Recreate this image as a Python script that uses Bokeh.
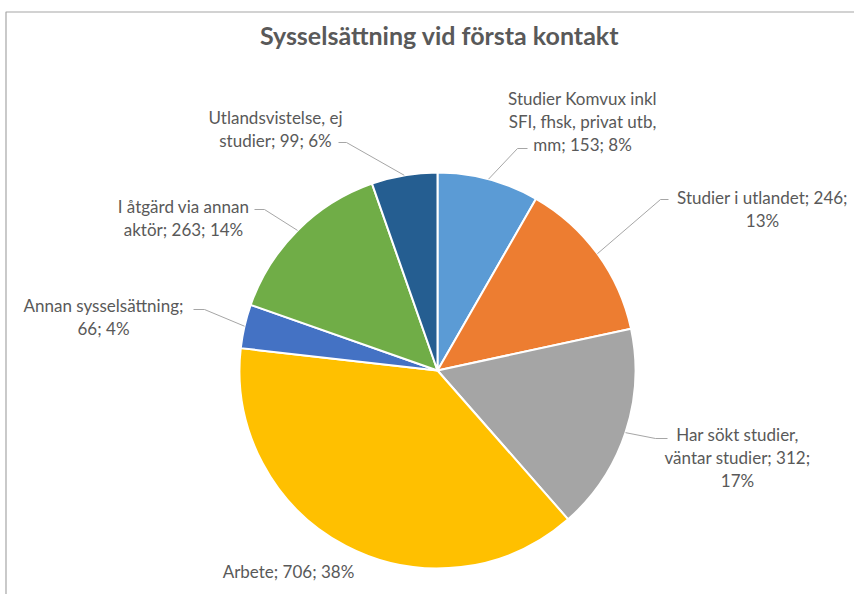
import math
from bokeh.plotting import figure
from bokeh.models import Range1d, ColumnDataSource
from bokeh.core.properties import value
from bokeh.embed import file_html
from bokeh.resources import INLINE

# ---- data ----
title = "Sysselsättning vid första kontakt"
categories = [
    "Studier Komvux inkl SFI, fhsk, privat utb, mm",
    "Studier i utlandet",
    "Har sökt studier, väntar studier",
    "Arbete",
    "Annan sysselsättning",
    "I åtgärd via annan aktör",
    "Utlandsvistelse, ej studier",
]
counts = [153, 246, 312, 706, 66, 263, 99]
pct_labels = ["8%", "13%", "17%", "38%", "4%", "14%", "6%"]

# ---- styles / layout ----
colors = ["#5B9BD5", "#ED7D31", "#A5A5A5", "#FFC000", "#4472C4", "#70AD47", "#255E91"]
W, H = 854, 594
OFF = 0
FONT = "Lato"
TXT = "#595959"

def sx(x):  # screen x -> data x
    return x - OFF

def sy(y):  # screen y -> data y
    return H + OFF - y

cx, cy, R = sx(437), sy(370), 198

# words per line for each label
words_per_line = [[3, 4, 3], [4, 1], [3, 3, 1], [3], [2, 2], [4, 3], [2, 3]]
# label centre x and line y positions (screen px)
label_x = [582, 762, 737, 288, 103, 183, 275]
label_y = [[98, 121, 144], [197, 220], [434, 457, 480], [571], [305, 328], [206, 229], [117, 140]]
# leader line: text end point and elbow (screen px); None = no leader
leaders = [((527, 148), (517, 148)), ((668, 199), (660, 199)), ((667, 438), (655, 438)),
           None, ((193, 309), (204, 309)), ((254, 209), (264, 209)), ((338, 142), (346, 142))]

p = figure(width=W, height=H, output_backend="svg", toolbar_location=None,
           x_range=Range1d(0, W), y_range=Range1d(0, H), min_border=0)
p.axis.visible = False
p.grid.visible = False
p.outline_line_color = None
p.background_fill_color = "white"

# chart border (left + top)
p.line([sx(5.5), sx(5.5), W + 10], [0, sy(11.5), sy(11.5)], line_color="#A6A6A6", line_width=1.2)

total = sum(counts)
starts, ends, mids = [], [], []
cum = 0
for v in counts:
    a0 = math.pi / 2 - 2 * math.pi * cum / total
    a1 = math.pi / 2 - 2 * math.pi * (cum + v) / total
    starts.append(a1)
    ends.append(a0)
    mids.append((a0 + a1) / 2)
    cum += v

src = ColumnDataSource(dict(start=starts, end=ends, color=colors, cat=categories, n=counts))
p.wedge(x=cx, y=cy, radius=R, radius_units="screen", start_angle="start", end_angle="end",
        fill_color="color", line_color="white", line_width=2, source=src)

# leader lines
for i, ld in enumerate(leaders):
    if ld is None:
        continue
    (tx, ty), (ex, ey) = ld
    px = cx + R * math.cos(mids[i])
    py = cy + R * math.sin(mids[i])
    p.line([px, sx(ex), sx(tx)], [py, sy(ey), sy(ty)], line_color="#A6A6A6", line_width=1)

# labels
for i, (cat, n, pc) in enumerate(zip(categories, counts, pct_labels)):
    words = f"{cat}; {n}; {pc}".split(" ")
    k = 0
    for j, nw in enumerate(words_per_line[i]):
        line = " ".join(words[k:k + nw])
        k += nw
        p.text(x=[sx(label_x[i])], y=[sy(label_y[i][j])], text=[line], text_align="center",
               text_baseline="middle", text_font=value(FONT), text_font_size="17px",
               text_color=TXT)

# title
p.text(x=[sx(439)], y=[sy(34)], text=[title], text_align="center", text_baseline="middle",
       text_font=value(FONT), text_font_size="25px", text_font_style="bold", text_color=TXT)

open("out.html", "w").write(file_html(p, INLINE))
